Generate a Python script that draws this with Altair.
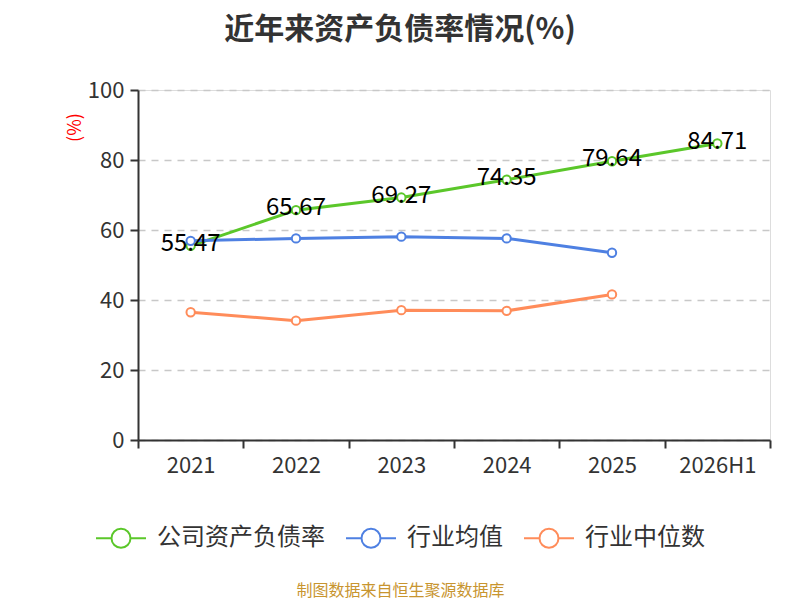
import altair as alt
import pandas as pd

years = ["2021", "2022", "2023", "2024", "2025", "2026H1"]
series_names = ["公司资产负债率", "行业均值", "行业中位数"]
company = [55.47, 65.67, 69.27, 74.35, 79.64, 84.71]
industry_avg = [56.9, 57.6, 58.1, 57.6, 53.5]
industry_median = [36.5, 34.1, 37.1, 36.9, 41.6]
colors = ["#5bc72a", "#4e80e2", "#ff8c5a"]

rows = []
for name, vals in zip(series_names, [company, industry_avg, industry_median]):
    for y, v in zip(years, vals):
        rows.append({"year": y, "series": name, "value": v})
df = pd.DataFrame(rows)

FONT = "Noto Sans CJK SC"

x = alt.X("year:O", sort=years,
          scale=alt.Scale(type="band", domain=years, paddingInner=0, paddingOuter=0),
          axis=alt.Axis(title="制图数据来自恒生聚源数据库", titleColor="#c8952f", titleFontSize=16,
                        titleFontWeight="normal", titleX=262, titleY=150, titleAnchor="middle",
                        titleBaseline="middle", titleFont=FONT,
                        labelAngle=0, labelFontSize=22, labelColor="#333333", labelFont=FONT,
                        tickBand="extent", tickSize=8, tickColor="#333333", tickWidth=2,
                        domainColor="#333333", domainWidth=2, labelPadding=7, grid=False))
y = alt.Y("value:Q",
          scale=alt.Scale(domain=[0, 100], nice=False),
          axis=alt.Axis(values=[0, 20, 40, 60, 80, 100], title="(%)", titleColor="#ff0000",
                        titleFontSize=18, titleFontWeight="normal", titleFont=FONT,
                        titleAngle=270, titleX=-63, titleY=37, titleAlign="center",
                        titleBaseline="middle",
                        labelFontSize=22, labelColor="#333333", labelFont=FONT,
                        tickSize=8, tickColor="#333333", tickWidth=2, labelPadding=6,
                        domainColor="#333333", domainWidth=2,
                        grid=True, gridColor="#c8c8c8", gridDash=[7, 6], gridWidth=1.5))
color = alt.Color("series:N",
                  scale=alt.Scale(domain=series_names, range=colors),
                  legend=alt.Legend(title=None, orient="none", legendX=-43, legendY=422,
                                    direction="horizontal", columns=3,
                                    symbolType="M-1,0L-0.38,0M0.38,0L1,0M-0.38,0A0.38,0.38,0,1,0,0.38,0A0.38,0.38,0,1,0,-0.38,0Z",
                                    symbolSize=2500, symbolStrokeWidth=2,
                                    symbolFillColor="white",
                                    labelFontSize=24, labelColor="#333333", labelFont=FONT,
                                    labelLimit=0, labelOffset=10, columnPadding=17))

base = alt.Chart(df)
lines = base.mark_line(strokeWidth=3).encode(x=x, y=y, color=color)
points = base.mark_point(shape="circle", filled=True, fill="white", size=70,
                         strokeWidth=2, opacity=1).encode(
    x=x, y=y, stroke=alt.Stroke("series:N", scale=alt.Scale(domain=series_names, range=colors),
                                legend=None))
labels = base.transform_filter(alt.datum.series == "公司资产负债率").mark_text(
    fontSize=24, color="#000000", baseline="middle", dy=-2, font=FONT).encode(
    x=x, y=y, text=alt.Text("value:Q", format=".2f"))

chart = alt.layer(lines, points, labels).properties(
    width=632, height=350,
    autosize=alt.AutoSizeParams(type="none"),
    padding={"left": 130, "top": 82, "right": 22, "bottom": 160},
    title=alt.Title("近年来资产负债率情况(%)", fontSize=30, fontWeight="bold", color="#333333",
                    font=FONT, anchor="middle", dx=-54, offset=34),
).configure_view(stroke=None).configure(background="white")

chart.save("out.html", embed_options={"renderer": "svg", "actions": False})
